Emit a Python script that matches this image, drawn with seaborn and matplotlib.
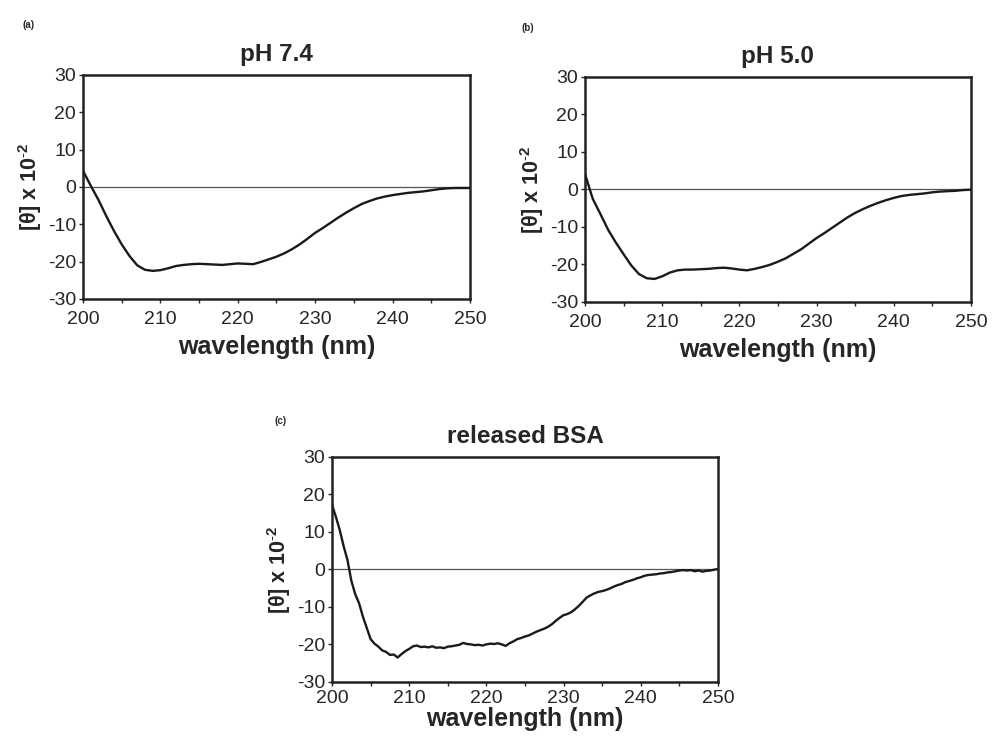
import numpy as np
import pandas as pd
import matplotlib
matplotlib.use('Agg')
import matplotlib.pyplot as plt
import seaborn as sns

# CD spectra values (mean residue ellipticity x 10^-2)
wl_1nm = np.arange(200, 251, 1)
ph74 = [4.3, 0.3, -3.5, -7.8, -11.8, -15.4, -18.5, -21.0, -22.2, -22.5,
        -22.3, -21.8, -21.2, -20.9, -20.7, -20.6, -20.7, -20.8, -20.9, -20.7,
        -20.5, -20.6, -20.7, -20.1, -19.4, -18.7, -17.8, -16.7, -15.4, -13.9,
        -12.3, -11.0, -9.6, -8.2, -6.9, -5.7, -4.6, -3.8, -3.1, -2.6,
        -2.2, -1.9, -1.6, -1.4, -1.2, -0.9, -0.6, -0.4, -0.3, -0.3, -0.3]
ph50 = [4.1, -2.5, -6.6, -10.8, -14.2, -17.3, -20.3, -22.6, -23.7, -23.9,
        -23.2, -22.2, -21.6, -21.4, -21.4, -21.3, -21.2, -21.0, -20.9, -21.1,
        -21.4, -21.6, -21.2, -20.7, -20.1, -19.3, -18.4, -17.2, -16.0, -14.5,
        -13.0, -11.7, -10.3, -8.9, -7.5, -6.3, -5.3, -4.4, -3.6, -2.9,
        -2.3, -1.8, -1.5, -1.3, -1.1, -0.8, -0.6, -0.5, -0.4, -0.2, -0.1]

wl_half = np.arange(200, 250.5, 0.5)
released = [17.2, 14.0, 10.5, 6.2, 2.5, -3.0, -6.6, -9.0, -12.6, -15.6,
            -18.6, -19.8, -20.6, -21.6, -22.0, -22.8, -22.7, -23.5, -22.6, -21.8,
            -21.2, -20.5, -20.3, -20.7, -20.6, -20.8, -20.5, -20.9, -20.8, -21.0,
            -20.6, -20.5, -20.3, -20.1, -19.6, -19.9, -20.0, -20.2, -20.1, -20.3,
            -20.0, -19.8, -19.9, -19.7, -20.0, -20.4, -19.7, -19.2, -18.6, -18.3,
            -17.9, -17.6, -17.1, -16.6, -16.2, -15.8, -15.3, -14.6, -13.7, -12.9,
            -12.2, -11.9, -11.4, -10.6, -9.7, -8.6, -7.5, -6.9, -6.4, -6.0,
            -5.8, -5.5, -5.1, -4.6, -4.2, -3.9, -3.4, -3.1, -2.8, -2.4,
            -2.1, -1.7, -1.5, -1.4, -1.3, -1.1, -1.0, -0.8, -0.7, -0.5,
            -0.3, -0.2, -0.3, -0.2, -0.5, -0.3, -0.6, -0.4, -0.3, -0.1, 0.1]

titles = ['pH 7.4', 'pH 5.0', 'released BSA']
panel_tags = ['(a)', '(b)', '(c)']

sns.set_style('ticks')
plt.rcParams['font.family'] = ['Liberation Sans', 'DejaVu Sans']
plt.rcParams['axes.unicode_minus'] = False
plt.rcParams['mathtext.fontset'] = 'custom'
plt.rcParams['mathtext.rm'] = 'Liberation Sans'
plt.rcParams['mathtext.bf'] = 'Liberation Sans:bold'

fig = plt.figure(figsize=(9.92, 7.38), dpi=100)
positions = [[0.0837, 0.595, 0.390, 0.3035],
             [0.5897, 0.591, 0.389, 0.305],
             [0.3347, 0.076, 0.389, 0.305]]
tag_xy = [(0.029, 0.966), (0.532, 0.962), (0.283, 0.430)]
xlabel_pads = [5, 5, 0]
series = [(wl_1nm, ph74), (wl_1nm, ph50), (wl_half, released)]

for i in range(3):
    ax = fig.add_axes(positions[i])
    x, y = series[i]
    df = pd.DataFrame({'wavelength': x, 'theta': y})
    ax.axhline(0, color='#555555', lw=0.9, zorder=1)
    sns.lineplot(data=df, x='wavelength', y='theta', ax=ax,
                 color='#1a1a1a', lw=1.7, zorder=3)
    ax.set_xlim(200, 250)
    ax.set_ylim(-30, 30)
    ax.set_xticks(range(200, 251, 10))
    ax.set_xticks(range(205, 250, 10), minor=True)
    ax.set_yticks(range(-30, 31, 10))
    ax.tick_params(axis='y', which='major', direction='out', length=3,
                   width=1, labelsize=14, pad=2)
    ax.tick_params(axis='x', which='major', direction='out', length=3,
                   width=1, labelsize=14, pad=6 if i < 2 else 3)
    ax.tick_params(axis='x', which='minor', direction='out', length=3, width=1)
    for s in ax.spines.values():
        s.set_visible(True)
        s.set_linewidth(1.8)
        s.set_color('#222222')
    ax.set_title(titles[i], fontsize=17.5, fontweight='bold', pad=10)
    ax.set_xlabel('wavelength (nm)', fontsize=18, fontweight='bold',
                  labelpad=xlabel_pads[i])
    ax.set_ylabel(r'[θ] x 10$^{\mathbf{\text{-}2}}$', fontsize=15.5,
                  fontweight='bold', labelpad=3)
    fig.text(tag_xy[i][0], tag_xy[i][1], panel_tags[i], fontsize=7,
             fontweight='bold', ha='center', va='center')

fig.savefig('out.png', dpi=100)
